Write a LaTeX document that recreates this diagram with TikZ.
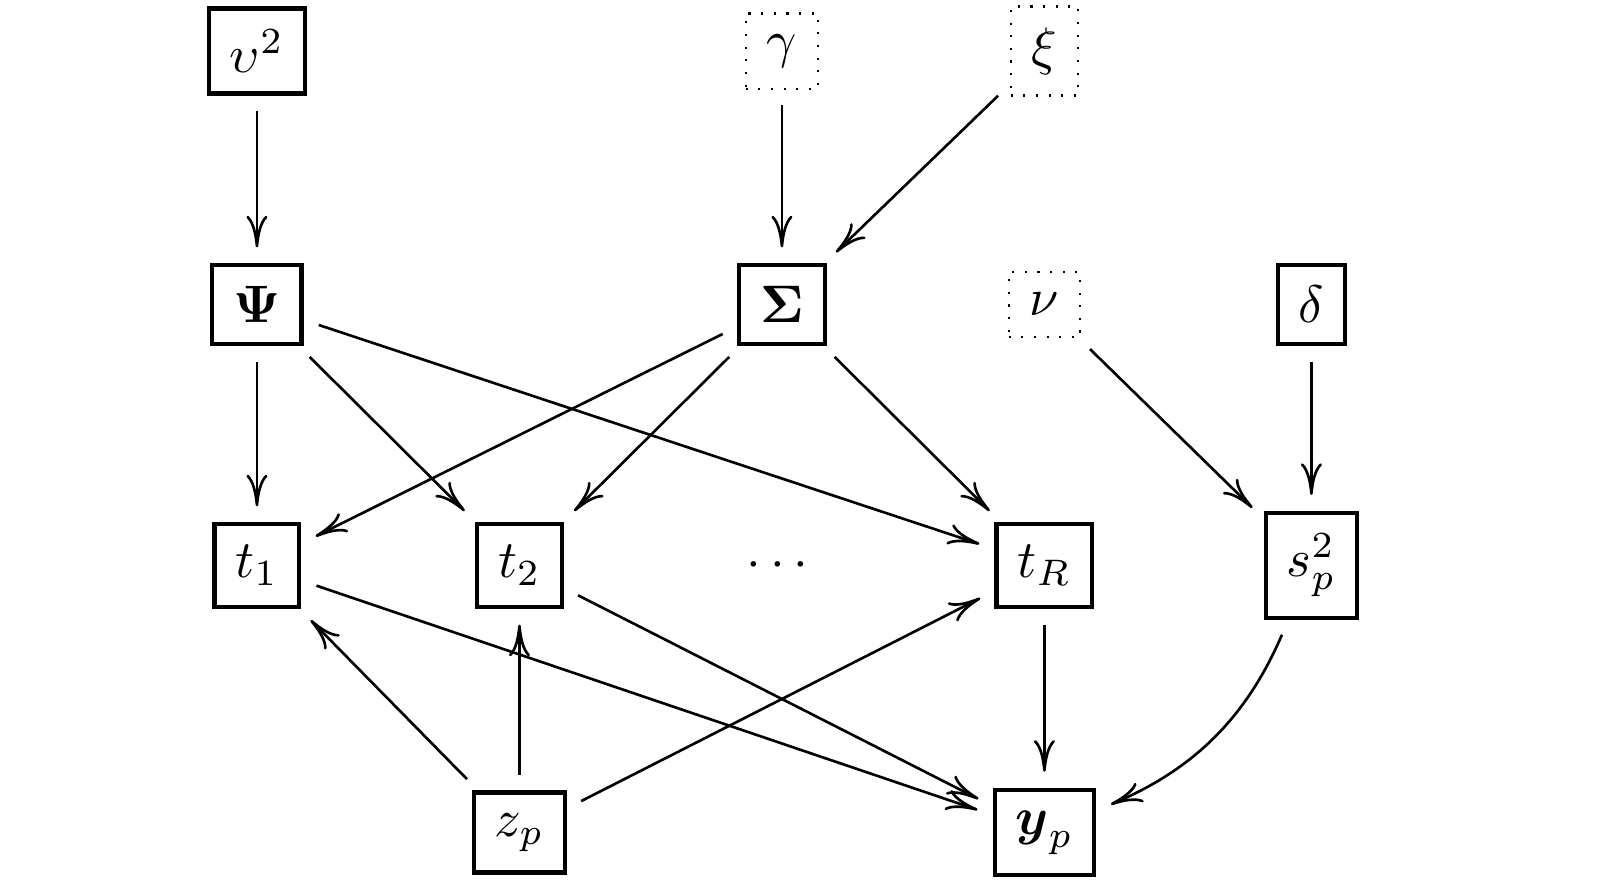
\documentclass[tikz,border=0pt]{standalone}
\usepackage{amsmath,amssymb}
\usetikzlibrary{arrows.meta,positioning}

\begin{document}
\begin{tikzpicture}[node distance=1.74cm and 1.75cm, on grid,
box/.style={draw,thick,inner sep=4pt},
fixed/.style={draw,dotted,inner sep=4pt},
arr/.style={-{Computer Modern Rightarrow[length=6pt,width=4pt]},line width=0.5pt,shorten >=3pt,shorten <=3pt}]
\useasboundingbox (0,0) rectangle (10.767,-5.893);
\node[box] (v2) at (1.713,-0.34) {$\upsilon^2$};
\node[box,below=1.69cm of v2] (psi) {$\boldsymbol{\Psi}$};
\node[box,below=of psi] (t1) {$t_1$};
\node[box,right=of t1] (t2) {$t_2$};
\node[right=of t2] (dots) {$\cdots$};
\node[box,right=of dots] (tR) {$t_R$};
\node[box,right=1.78cm of tR] (s2) {$s_p^2$};
\node[box,above=of dots] (sigma) {$\boldsymbol{\Sigma}$};
\node[fixed,above=1.69cm of sigma] (gamma) {$\gamma$};
\node[fixed,above=of tR] (nu) {$\nu$};
\node[fixed,above=1.69cm of nu] (xi) {$\xi$};
\node[box,above=of s2] (delta) {$\delta$};
\node[box,below=1.78cm of t2] (zp) {$z_p$};
\node[box,below=1.78cm of tR] (yp) {$\boldsymbol{y}_p$};
\draw[arr] (v2) -- (psi);
\draw[arr] (gamma) -- (sigma);
\draw[arr] (xi) -- (sigma);
\draw[arr] (psi) -- (t1);
\draw[arr] (psi) -- (t2);
\draw[arr] (psi) -- (tR);
\draw[arr] (sigma) -- (t1);
\draw[arr] (sigma) -- (t2);
\draw[arr] (sigma) -- (tR);
\draw[arr] (nu) -- (s2);
\draw[arr] (delta) -- (s2);
\draw[arr] (t1) -- (yp);
\draw[arr] (t2) -- (yp);
\draw[arr] (tR) -- (yp);
\draw[arr] (s2) to[bend left=22] (yp);
\draw[arr] (zp) -- (t1);
\draw[arr] (zp) -- (t2);
\draw[arr] (zp) -- (tR);
\end{tikzpicture}
\end{document}
